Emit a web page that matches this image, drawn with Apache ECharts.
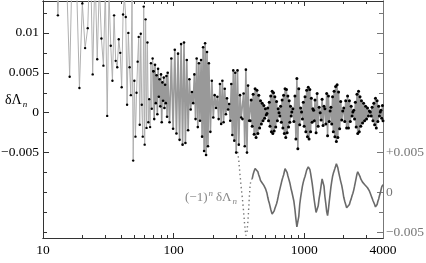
<!DOCTYPE html>
<html><head><meta charset="utf-8">
<script src="https://cdn.jsdelivr.net/npm/echarts@6/dist/echarts.min.js"></script>
<style>html,body{margin:0;padding:0;background:#fff}#c{width:426px;height:263px}</style>
</head><body><div id="c"></div>
<script>
// ---- data: δΛ_n, sparse low-n region (every n) ----
const nLow = [10,11,12,13,14,15,16,17,18,19,20,21,22,23,24,25,26,27,28,29,30,31,32,33,34,35,36,37,38,39,40,41,42,43,44,45,46,47,48,49,50,51,52,53,54,55,56,57,58,59,60,61,62,63,64,65,66,67,68,69];
const dLow = [0.030,0.022,0.028,0.0122,0.026,0.019,0.0045,0.024,0.017,0.0031,0.0137,0.0081,0.0106,0.021,0.0048,0.018,0.0067,0.016,0.0093,0.0059,0.0155,-0.0004,0.015,0.0084,0.004,0.0122,0.0065,0.0057,0.0092,0.0075,0.0032,0.0123,0.0145,0.012,0.001,0.010,0.0057,0.0022,0.0142,-0.006,0.004,-0.003,0.0025,0.0064,0.0095,-0.0015,0.0099,0.001,-0.003,0.0133,-0.004,0.0117,-0.0019,0.0088,-0.0012,0.0017,-0.0018,0.0062,0.0005,0.0068];
// ---- δΛ_n, middle region (sampled n) ----
const nMid = [70,71,72,73,74,75,76,77,78,79,80,81,82,83,84,85,86,87,88,89,90,93,96,99,102,105,108,111,114,117,120,123,126,129,132,135,138,141,144,147,150,153,156,159,162,165,168,171,174,177,180,183,186,191,196,201,206,211,216,221,226,231,236,241,246,251,256,261,266,271,276,281,286,291,296];
const dMid = [0.0052,-0.0008,0.0060,0.0012,0.0047,-0.0002,0.0055,0.0020,0.0042,0.0008,0.0048,-0.0012,0.0038,0.0015,0.0044,0.0006,0.0035,0.0012,0.0046,-0.0005,0.0050,-0.0012,0.0068,-0.0020,0.0079,-0.0026,0.0074,-0.0034,0.0086,-0.0040,0.0088,-0.0038,0.0066,-0.0022,0.0042,0.0004,0.0026,0.0012,0.0048,-0.0008,0.0068,-0.0018,0.0062,-0.0010,0.0066,-0.0030,0.0082,-0.0048,0.0087,-0.0053,0.0076,-0.0042,0.0062,-0.0024,0.0040,-0.0006,0.0022,0.0006,0.0020,-0.0008,0.0036,-0.0014,0.0040,-0.0012,0.0030,-0.0002,0.0018,0.0004,0.0011,-0.0010,0.0036,-0.0028,0.0053,-0.0035,0.0050];
// ---- (−1)^n δΛ_n, tail region (sampled n) ----
const nTail = [301,308,315,322,329,336,343,350,357,364,371,378,385,392,399,
406,413,420,427,434,441,448,455,462,469,476,483,490,497,504,511,518,525,532,539,546,553,560,567,574,581,588,595,
604,613,622,631,640,649,658,667,676,685,694,703,712,721,730,739,748,757,766,775,784,793,802,
817,832,847,862,877,892,907,922,937,952,967,982,997,1012,1027,1042,1057,1072,1087,1102,1117,1132,1147,1162,1177,1192,1207,
1230,1253,1276,1299,1322,1345,1368,1391,1414,1437,1460,1483,1506,1529,1552,1575,1598,1621,1644,1667,1690,1713,1736,1759,1782,1805,1828,
1863,1898,1933,1968,2003,2038,2073,2108,2143,2178,2213,2248,2283,2318,2353,2388,2423,2458,2493,2528,2563,2598,2633,2668,2703,2738,
2789,2840,2891,2942,2993,3044,3095,3146,3197,3248,3299,3350,3401,3452,3503,3554,3605,3656,3707,3758,3809,3860,3911,3962,3999];
const sTail = [0.0050,0.0053,0.0040,0.0022,0.0006,-0.0008,-0.0024,-0.0042,-0.0054,-0.0050,-0.0034,-0.0010,0.0010,0.0016,0.0017,
0.0023,0.0027,0.0030,0.0031,0.0028,0.0026,0.0022,0.0019,0.0015,0.0014,0.0012,0.0010,0.0009,0.0007,0.0005,0.0003,-0.0001,-0.0006,-0.0010,-0.0013,-0.0017,-0.0021,-0.0024,-0.0027,-0.0026,-0.0025,-0.0023,-0.0020,
-0.0018,-0.0014,-0.0010,-0.0005,0.0000,0.0004,0.0008,0.0012,0.0016,0.0019,0.0022,0.0026,0.0030,0.0031,0.0029,0.0025,0.0021,0.0018,0.0015,0.0012,0.0008,0.0004,0.0001,
-0.0005,-0.0011,-0.0021,-0.0033,-0.0043,-0.0045,-0.0030,-0.0015,-0.0006,0.0001,0.0008,0.0013,0.0017,0.0020,0.0024,0.0028,0.0030,0.0032,0.0033,0.0029,0.0024,0.0018,0.0012,0.0005,-0.0003,-0.0010,-0.0016,
-0.0025,-0.0024,-0.0017,-0.0007,0.0000,0.0009,0.0017,0.0016,0.0008,-0.0005,-0.0014,-0.0024,-0.0029,-0.0021,-0.0011,-0.0002,0.0007,0.0014,0.0020,0.0024,0.0027,0.0030,0.0033,0.0036,0.0035,0.0031,0.0026,
0.0020,0.0014,0.0009,0.0002,-0.0006,-0.0011,-0.0015,-0.0019,-0.0021,-0.0019,-0.0015,-0.0011,-0.0008,-0.0004,-0.0001,0.0003,0.0008,0.0013,0.0018,0.0023,0.0026,0.0027,0.0024,0.0020,0.0017,0.0015,
0.0013,0.0012,0.0010,0.0008,0.0008,0.0006,0.0004,0.0002,-0.0001,-0.0004,-0.0007,-0.0010,-0.0012,-0.0015,-0.0018,-0.0019,-0.0015,-0.0011,-0.0008,-0.0004,-0.0001,0.0003,0.0007,0.0009,0.0010];
// ---- ticks / labels ----
const xLabelVals = [10,100,1000,4000];
const xMajor = [10,100,1000];
const xMinor = [20,30,40,50,60,70,80,90,200,300,400,500,600,700,800,900,2000,3000];
const yLeftLabelVals = [-0.005,0,0.005,0.01];
const yLeftMinor = [-0.015,-0.0125,-0.01,-0.0075,-0.0025,0.0025,0.0075,0.0125];
const yRightLabelVals = [-0.005,0,0.005];
const yRightMajor = [-0.005,0,0.005,0.01,0.015,0.02];
const yRightMinor = [-0.0025,0.0025,0.0075,0.0125,0.0175,0.0225];

const LMIN=-0.0157, LMAX=0.014, SHIFT=0.01;
const serif = 'Liberation Serif';

const dataA1 = [];
nLow.forEach((n,i)=>dataA1.push([n,dLow[i]]));
dataA1.push([nMid[0], dMid[0]]);
const dataA2 = [];
nMid.forEach((n,i)=>dataA2.push([n,dMid[i]]));
nTail.forEach((n,i)=>dataA2.push([n,(n%2===0?1:-1)*sTail[i]]));
const dataB1 = [], dataB2 = [];
nTail.forEach((n,i)=>{ if(n<=399) dataB1.push([n,sTail[i]]); if(n>=399) dataB2.push([n,sTail[i]]); });

const fmtL = v => v===0?'0':(v<0?'\u2212':'')+Math.abs(v);
const fmtR = v => v===0?'0':(v<0?'\u2212':'+')+Math.abs(v);

function xAx(pos, ticks, len, labels, name){
  return {type:'log', logBase:10, position:pos, min:10, max:4000,
    axisLine:{show:true, onZero:false, lineStyle:{color:'#333', width:1}},
    axisTick:{show:true, inside:true, length:len, customValues:ticks, lineStyle:{color:'#333'}},
    axisLabel: labels ? {show:true, customValues:labels, formatter:v=>String(Math.round(v)), color:'#000', fontFamily:serif, fontSize:13.5, margin:5} : {show:false},
    splitLine:{show:false}, minorTick:{show:false},
    name: name||'', nameLocation:'middle', nameGap:17,
    nameTextStyle:{fontFamily:serif, fontStyle:'italic', fontSize:14, color:'#000'}};
}
function yAx(pos, min, max, ticks, len, labels, fmt, color){
  return {type:'value', position:pos, min:min, max:max,
    axisLine:{show:true, onZero:false, lineStyle:{color:color, width:1}},
    axisTick:{show:true, inside:true, length:len, customValues:ticks, lineStyle:{color:color}},
    axisLabel: labels ? {show:true, customValues:labels, formatter:fmt, color:color==='#333'?'#000':color, fontFamily:serif, fontSize:13.5, margin:pos==='right'?3:4} : {show:false},
    splitLine:{show:false}};
}

const chart = echarts.init(document.getElementById('c'), null, {renderer:'canvas'});
chart.setOption({
  animation:false,
  backgroundColor:'#fff',
  grid:{left:43, right:43, top:1, bottom:25, containLabel:false, outerBoundsMode:'none'},
  title:[
    {text:'{a|δΛ}{b|n}', left:0, top:87,
      textStyle:{rich:{a:{fontFamily:serif, fontWeight:'normal', fontSize:14, color:'#000'}, b:{fontFamily:serif, fontWeight:'normal', fontStyle:'italic', fontSize:9, color:'#000', padding:[8,0,0,1]}}}},
    {text:'{a|(\u22121)}{b|n}{d|δΛ}{c|n}', left:180, top:184,
      textStyle:{rich:{a:{fontFamily:serif, fontWeight:'normal', fontSize:13, color:'#888'}, d:{fontFamily:serif, fontWeight:'normal', fontSize:13, color:'#888', padding:[0,0,0,3]}, b:{fontFamily:serif, fontWeight:'normal', fontStyle:'italic', fontSize:9, color:'#888', padding:[0,0,9,1]}, c:{fontFamily:serif, fontWeight:'normal', fontStyle:'italic', fontSize:9, color:'#888', padding:[8,0,0,1]}}}}
  ],
  xAxis:[
    xAx('bottom', xMajor, 5, xLabelVals, 'n'),
    xAx('bottom', xMinor, 3, null),
    xAx('top', xMajor, 5, null),
    xAx('top', xMinor, 3, null)
  ],
  yAxis:[
    yAx('left', LMIN, LMAX, yLeftLabelVals, 6, yLeftLabelVals, fmtL, '#333'),
    yAx('left', LMIN, LMAX, yLeftMinor, 4, null, null, '#333'),
    yAx('right', LMIN+SHIFT, LMAX+SHIFT, yRightMajor, 6, yRightLabelVals, fmtR, '#777'),
    yAx('right', LMIN+SHIFT, LMAX+SHIFT, yRightMinor, 4, null, null, '#777')
  ],
  series:[
    {type:'line', name:'dL low', xAxisIndex:0, yAxisIndex:0, data:dataA1, clip:true,
      lineStyle:{color:'#b0b0b0', width:1}, symbol:'circle', symbolSize:2.4, showSymbol:true, showAllSymbol:true,
      itemStyle:{color:'#000'}, emphasis:{disabled:true}, z:3},
    {type:'line', name:'dL', xAxisIndex:0, yAxisIndex:0, data:dataA2, clip:true,
      lineStyle:{color:'#999999', width:1.6}, symbol:'circle',
      symbolSize:(v)=> v[0] >= 380 ? 3 : 2.6, showSymbol:true, showAllSymbol:true,
      itemStyle:{color:'#000'}, emphasis:{disabled:true}, z:3},
    {type:'line', name:'alt start', xAxisIndex:0, yAxisIndex:2, data:dataB1, clip:true,
      lineStyle:{color:'#777', width:1.4, type:[1.4,3]}, showSymbol:false, emphasis:{disabled:true}, z:2},
    {type:'line', name:'alt', xAxisIndex:0, yAxisIndex:2, data:dataB2, clip:true,
      lineStyle:{color:'#6a6a6a', width:1.6}, showSymbol:false, emphasis:{disabled:true}, z:2}
  ]
});
</script></body></html>
